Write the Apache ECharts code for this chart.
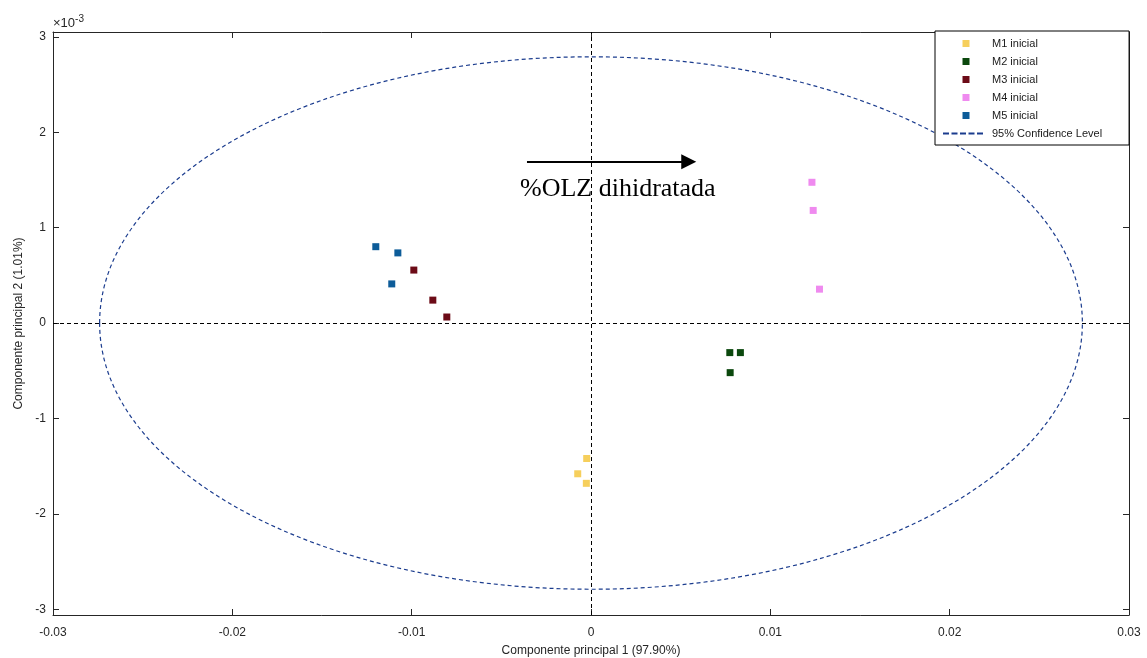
<!DOCTYPE html>
<html>
<head>
<meta charset="utf-8">
<script src="https://cdn.jsdelivr.net/npm/echarts@6/dist/echarts.min.js"></script>
<style>
  html, body { margin: 0; padding: 0; background: #fff; }
  #chart { width: 1147px; height: 658px; }
</style>
</head>
<body>
<div id="chart"></div>
<script>
// PCA scores: x = PC1, y = PC2 (in units of 1e-3)
const m1 = [[-0.00024, -1.42], [-0.00074, -1.58], [-0.00026, -1.68]];
const m2 = [[0.00774, -0.31], [0.00833, -0.31], [0.00776, -0.52]];
const m3 = [[-0.00988, 0.555], [-0.00882, 0.24], [-0.00804, 0.063]];
const m4 = [[0.01232, 1.475], [0.01239, 1.18], [0.01274, 0.355]];
const m5 = [[-0.01200, 0.80], [-0.01077, 0.735], [-0.01111, 0.41]];

// 95% confidence ellipse: centre and semi-axes (PC1, PC2 x 1e-3)
const ellipse = [[0, 0, 0.0274, 2.79]];

// annotation arrow along PC1
const arrowStart = [-0.00357, 1.69];
const arrowEnd = [0.00545, 1.69];

const xTicks = [-0.03, -0.02, -0.01, 0, 0.01, 0.02, 0.03];
const yTicks = [-3, -2, -1, 0, 1, 2, 3];

const seriesNames = ['M1 inicial', 'M2 inicial', 'M3 inicial', 'M4 inicial', 'M5 inicial'];
const seriesData = [m1, m2, m3, m4, m5];
const seriesColors = ['#f6cf5c', '#0b480d', '#6c0b17', '#ef8aef', '#0d5c99'];
const ellipseName = '95% Confidence Level';
const ellipseColor = '#1b3c8e';

const font = '"Liberation Sans", Arial, Helvetica, sans-serif';
const axisColor = '#262626';

// legend icons: a small square inside the icon box, and a dashed line
const squareIcon = 'path://M0,0M40,7M19.5,0L26.5,0L26.5,7L19.5,7Z';
const dashIcon = 'path://M0,0M40,7' +
  'M0,2.5h6v2h-6z M8.5,2.5h6v2h-6z M17,2.5h6v2h-6z M25.5,2.5h6v2h-6z M34,2.5h6v2h-6z';

const chart = echarts.init(document.getElementById('chart'));

const scatterSeries = seriesNames.map((name, i) => ({
  type: 'scatter',
  name: name,
  data: seriesData[i],
  symbol: 'rect',
  symbolSize: 7,
  itemStyle: { color: seriesColors[i], opacity: 1 },
  z: 5
}));

// dashed zero lines through the origin
scatterSeries[0].markLine = {
  silent: true,
  symbol: ['none', 'none'],
  label: { show: false },
  lineStyle: { color: '#000', width: 1, type: [4, 3] },
  data: [{ xAxis: 0 }, { yAxis: 0 }],
  z: 3
};

// arrow annotation
scatterSeries[1].markLine = {
  silent: true,
  symbol: ['none', 'triangle'],
  symbolSize: 15,
  label: { show: false },
  lineStyle: { color: '#000', width: 2, type: 'solid' },
  itemStyle: { color: '#000' },
  data: [[{ coord: arrowStart }, { coord: arrowEnd }]],
  z: 4
};

const option = {
  animation: false,
  backgroundColor: '#fff',
  textStyle: { fontFamily: font },
  grid: { left: 53, right: 18, top: 32, bottom: 43, containLabel: false, outerBoundsMode: 'none' },
  xAxis: [{
    type: 'value',
    min: -0.03, max: 0.03, interval: 0.01,
    position: 'bottom',
    name: 'Componente principal 1 (97.90%)',
    nameLocation: 'middle',
    nameGap: 30,
    nameTextStyle: { color: axisColor, fontSize: 12, fontFamily: font },
    axisLine: { show: true, onZero: false, lineStyle: { color: axisColor, width: 1 } },
    axisTick: { show: true, inside: true, length: 6, lineStyle: { color: axisColor } },
    axisLabel: { color: axisColor, fontSize: 12, margin: 12, fontFamily: font,
      customValues: xTicks, formatter: v => String(+v.toFixed(2)) },
    splitLine: { show: false }
  }, {
    type: 'value',
    min: -0.03, max: 0.03, interval: 0.01,
    position: 'top',
    axisLine: { show: true, onZero: false, lineStyle: { color: axisColor, width: 1 } },
    axisTick: { show: true, inside: true, length: 6, lineStyle: { color: axisColor } },
    axisLabel: { show: false },
    splitLine: { show: false }
  }],
  yAxis: [{
    type: 'value',
    min: -3.06, max: 3.05,
    position: 'left',
    name: 'Componente principal 2 (1.01%)',
    nameLocation: 'middle',
    nameGap: 24,
    nameRotate: 90,
    nameTextStyle: { color: axisColor, fontSize: 12, fontFamily: font },
    axisLine: { show: true, onZero: false, lineStyle: { color: axisColor, width: 1 } },
    axisTick: { show: true, inside: true, length: 6, customValues: yTicks, lineStyle: { color: axisColor } },
    axisLabel: { color: axisColor, fontSize: 12, margin: 7, fontFamily: font, customValues: yTicks },
    splitLine: { show: false }
  }, {
    type: 'value',
    min: -3.06, max: 3.05,
    position: 'right',
    axisLine: { show: true, onZero: false, lineStyle: { color: axisColor, width: 1 } },
    axisTick: { show: true, inside: true, length: 6, customValues: yTicks, lineStyle: { color: axisColor } },
    axisLabel: { show: false },
    splitLine: { show: false }
  }],
  legend: {
    orient: 'vertical',
    left: 935,
    top: 31,
    padding: [7, 27, 6, 8],
    itemWidth: 40,
    itemHeight: 7,
    itemGap: 7,
    backgroundColor: '#fff',
    borderColor: '#000',
    borderWidth: 1,
    borderRadius: 0,
    textStyle: { color: '#1a1a1a', fontSize: 11, fontFamily: font, padding: [0, 0, 0, 4] },
    data: seriesNames.map(n => ({ name: n, icon: squareIcon }))
      .concat([{ name: ellipseName, icon: dashIcon }]),
    selectedMode: false
  },
  graphic: [{
    type: 'text',
    left: 53,
    top: 14,
    style: {
      text: '×10{sup|-3}',
      fill: axisColor,
      font: '13px ' + font,
      rich: { sup: { fontSize: 10, verticalAlign: 'top', padding: [0, 0, 8, 0], fill: axisColor } }
    }
  }, {
    type: 'text',
    left: 520,
    top: 176,
    style: {
      text: '%OLZ dihidratada',
      fill: '#000',
      font: '26px "Liberation Serif", "Times New Roman", serif'
    }
  }],
  series: scatterSeries.concat([{
    // legend entry for the confidence ellipse
    type: 'line',
    name: ellipseName,
    data: [],
    symbol: 'none',
    showSymbol: false,
    color: ellipseColor,
    lineStyle: { color: ellipseColor, width: 1.5, type: [5, 3] }
  }, {
    type: 'custom',
    name: 'ellipse',
    data: ellipse,
    silent: true,
    z: 2,
    renderItem: function (params, api) {
      const c = api.coord([api.value(0), api.value(1)]);
      const s = api.size([api.value(2), api.value(3)]);
      return {
        type: 'ellipse',
        shape: { cx: c[0], cy: c[1], rx: s[0], ry: s[1] },
        style: { fill: null, stroke: ellipseColor, lineWidth: 1.2, lineDash: [4, 3] }
      };
    }
  }])
};

chart.setOption(option);
</script>
</body>
</html>
